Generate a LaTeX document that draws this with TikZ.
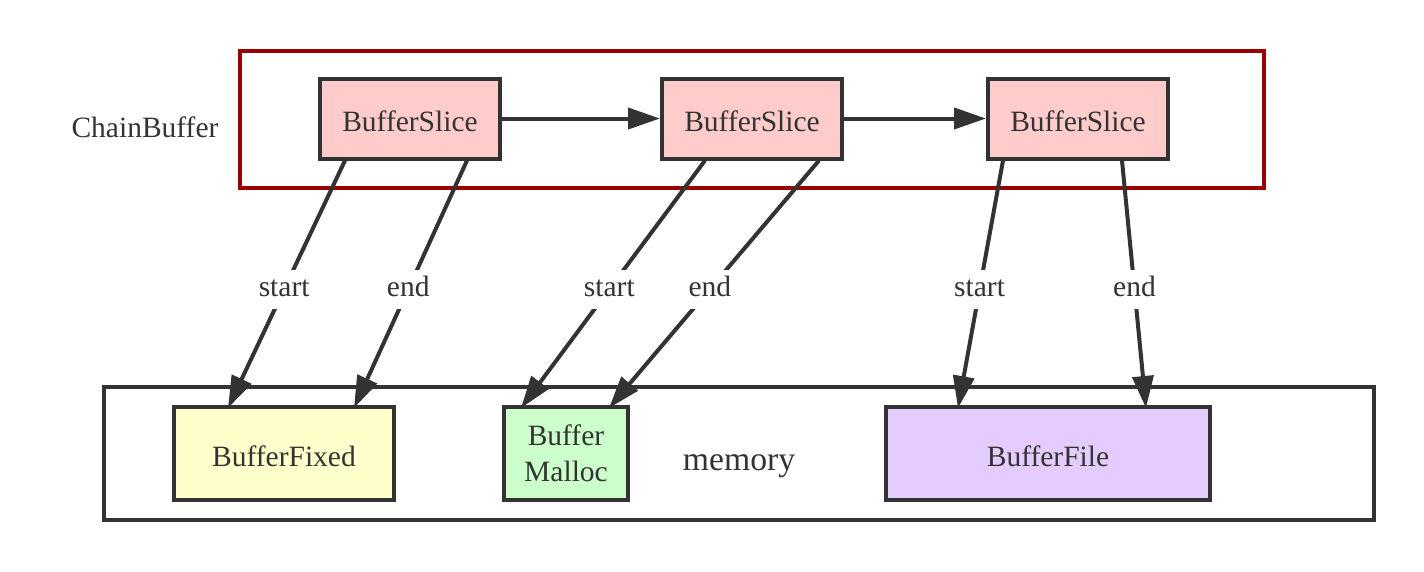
\documentclass[tikz,border=0pt]{standalone}
\usepackage{fontspec}
\setmainfont{Liberation Serif}
\usetikzlibrary{arrows.meta}

\definecolor{ink}{HTML}{333333}
\definecolor{chainred}{HTML}{990000}
\definecolor{slicefill}{HTML}{FFCCCC}
\definecolor{fixedfill}{HTML}{FFFFCC}
\definecolor{mallocfill}{HTML}{CCFFCC}
\definecolor{filefill}{HTML}{E5CCFF}

\begin{document}
\begin{tikzpicture}[x=1pt, y=-1pt,
    every node/.style={text=ink, font=\fontsize{29.5}{36}\selectfont},
    cluster/.style={draw, line width=4pt, inner sep=0pt},
    bufbox/.style={draw=ink, line width=4pt, minimum height=93pt, align=center},
    oneline/.style={text height=26.5pt, text depth=0pt},
    slicebox/.style={bufbox, oneline, fill=slicefill, minimum width=180pt, minimum height=80pt},
    link/.style={draw=ink, line width=4pt, -{Triangle[length=32pt,width=21pt]}},
    tag/.style={pos=.52, fill=white, inner sep=5pt, text height=22pt, text depth=7pt}]
    \useasboundingbox (0,0) rectangle (1424,571);

    % Draw clusters
    \node[cluster, draw=chainred, minimum width=1024pt, minimum height=137pt] (chain) at (752,119) {};
    \node[cluster, draw=ink, minimum width=1270pt, minimum height=133pt] (memory) at (739,453.5) {};
    \node[anchor=base] (chainlabel) at (145,137) {ChainBuffer};
    \node[anchor=base, font=\fontsize{33.7}{40}\selectfont] (memlabel) at (739,470) {memory};

    % Draw nodes
    \node[slicebox] (slice1) at (410,118.5) {BufferSlice};
    \node[slicebox] (slice2) at (752,118.5) {BufferSlice};
    \node[slicebox] (slice3) at (1078,118.5) {BufferSlice};
    \node[bufbox, oneline, fill=fixedfill, minimum width=220pt] (fixed) at (284,453.5) {BufferFixed};
    \node[bufbox, fill=mallocfill, minimum width=124pt] (malloc) at (566,453.5) {Buffer\\Malloc};
    \node[bufbox, oneline, fill=filefill, minimum width=324pt] (file) at (1048,453.5) {BufferFile};

    % Draw connections
    \draw[link] (slice1) -- (slice2);
    \draw[link] (slice2) -- (slice3);
    \draw[link] ([xshift=-65pt]slice1.south) -- node[tag] {start} ([xshift=-56pt,yshift=-3pt]fixed.north);
    \draw[link] ([xshift=57pt]slice1.south) -- node[tag] {end} ([xshift=70pt,yshift=-3pt]fixed.north);
    \draw[link] ([xshift=-47pt]slice2.south) -- node[tag] {start} ([xshift=-45pt,yshift=-3pt]malloc.north);
    \draw[link] ([xshift=67pt]slice2.south) -- node[tag] {end} ([xshift=43pt,yshift=-3pt]malloc.north);
    \draw[link] ([xshift=-75pt]slice3.south) -- node[tag] {start} ([xshift=-90pt,yshift=-3pt]file.north);
    \draw[link] ([xshift=44pt]slice3.south) -- node[tag] {end} ([xshift=98pt,yshift=-3pt]file.north);
\end{tikzpicture}
\end{document}
